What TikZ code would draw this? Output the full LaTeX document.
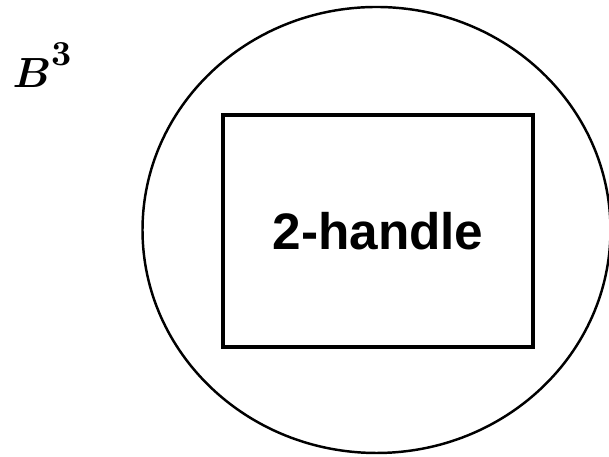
\documentclass[tikz,border=0pt]{standalone}
\usepackage{fontspec}
\usepackage{amsmath,amssymb,bm}
\newfontfamily\handlefont{Liberation Sans}
\begin{document}
\begin{tikzpicture}
    \useasboundingbox (0,0) rectangle (6.09,4.57);
    % the ball B^3
    \draw[line width=0.7pt] (3.765,2.27) ellipse (2.34 and 2.23);
    \node[inner sep=0pt] (ball) at (0.42,3.92)
        {\fontsize{13}{15}\selectfont $\bm{B}$\raisebox{0.5em}{\fontsize{10}{12}\selectfont\bfseries 3}};
    % the 2-handle inside it
    \node[draw, line width=0.9pt, minimum width=3.10cm, minimum height=2.32cm,
        inner sep=0pt] (handle) at (3.78,2.26)
        {\handlefont\bfseries\fontsize{14.6}{16}\selectfont 2-handle};
\end{tikzpicture}
\end{document}
